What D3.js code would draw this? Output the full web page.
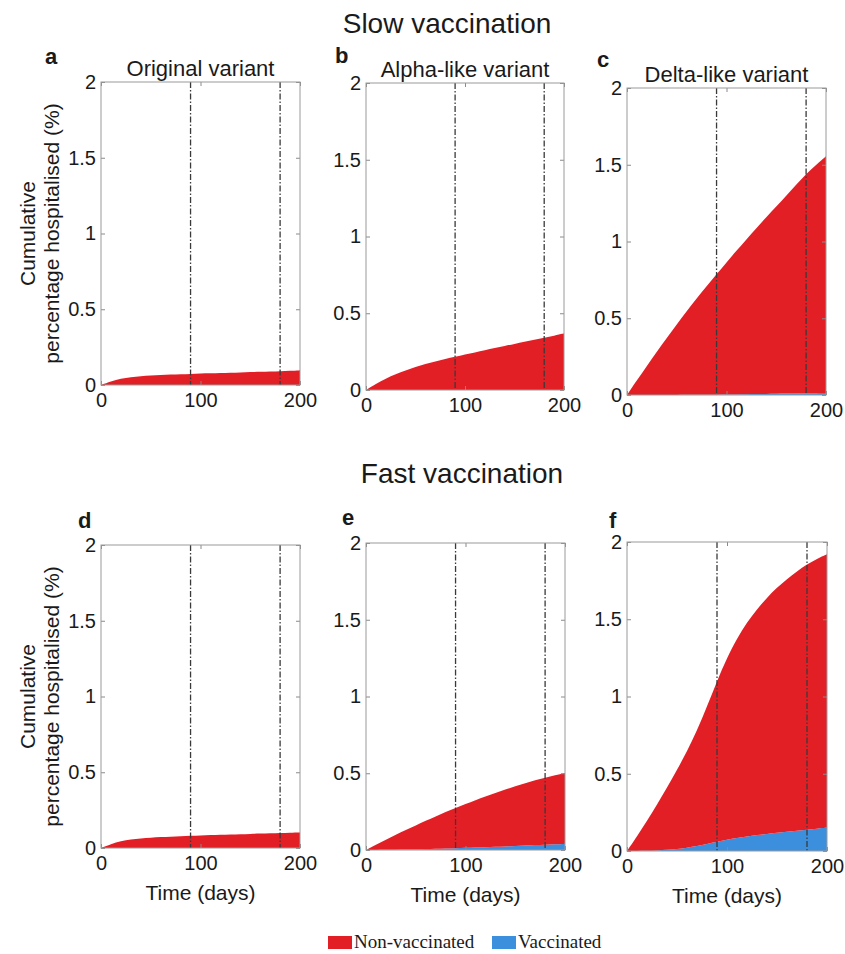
<!DOCTYPE html>
<html>
<head>
<meta charset="utf-8">
<script src="https://cdn.jsdelivr.net/npm/d3@7"></script>
<style>
  body { margin: 0; background: #fff; }
  text { font-family: 'Liberation Sans', Arial, Helvetica, sans-serif; fill: #1a1a1a; }
</style>
</head>
<body>
<svg id="chart" width="845" height="954"></svg>
<script>
// time grid (days) and the two reference days marked with dash-dot lines
const days = [0, 10, 20, 30, 40, 50, 60, 70, 80, 90, 100, 110, 120, 130, 140, 150, 160, 170, 180, 190, 200];
const markerDays = [90, 180];
const xTicks = [0, 100, 200];
const yTicks = [0, 0.5, 1, 1.5, 2];

const rowTitles = ['Slow vaccination', 'Fast vaccination'];
const variants = ['Original variant', 'Alpha-like variant', 'Delta-like variant'];
const letters = ['a', 'b', 'c', 'd', 'e', 'f'];
const seriesNames = ['Non-vaccinated', 'Vaccinated'];
const seriesColors = ['#e31f26', '#3c8fdd'];

// cumulative % hospitalised, non-vaccinated part
const nonVacA = [0, 0.025, 0.042, 0.052, 0.059, 0.063, 0.066, 0.069, 0.071, 0.073, 0.076, 0.077, 0.079, 0.081, 0.083, 0.085, 0.087, 0.089, 0.091, 0.094, 0.097];
const nonVacB = [0, 0.04, 0.075, 0.103, 0.128, 0.15, 0.17, 0.186, 0.202, 0.216, 0.231, 0.245, 0.259, 0.273, 0.287, 0.3, 0.314, 0.327, 0.34, 0.354, 0.368];
const nonVacC = [0, 0.096, 0.19, 0.282, 0.372, 0.46, 0.545, 0.628, 0.707, 0.785, 0.861, 0.936, 1.009, 1.081, 1.151, 1.22, 1.288, 1.36, 1.429, 1.488, 1.542];
const nonVacD = [0, 0.027, 0.045, 0.056, 0.063, 0.068, 0.072, 0.075, 0.078, 0.08, 0.083, 0.085, 0.087, 0.089, 0.091, 0.093, 0.095, 0.097, 0.099, 0.101, 0.103];
const nonVacE = [0, 0.034, 0.066, 0.097, 0.127, 0.156, 0.184, 0.211, 0.237, 0.262, 0.286, 0.309, 0.331, 0.351, 0.371, 0.389, 0.406, 0.422, 0.438, 0.45, 0.461];
const nonVacF = [0, 0.095, 0.194, 0.297, 0.403, 0.512, 0.624, 0.749, 0.89, 1.04, 1.177, 1.291, 1.386, 1.462, 1.529, 1.587, 1.635, 1.679, 1.718, 1.747, 1.769];

// cumulative % hospitalised, vaccinated part
const vacA = [0, 0, 0, 0, 0, 0, 0, 0, 0, 0, 0, 0, 0, 0, 0, 0, 0, 0, 0, 0, 0];
const vacB = [0, 0, 0, 0, 0, 0, 0, 0, 0, 0, 0, 0, 0, 0, 0, 0, 0, 0, 0, 0, 0];
const vacC = [0, 0, 0, 0, 0, 0, 0.001, 0.001, 0.002, 0.002, 0.003, 0.004, 0.005, 0.006, 0.007, 0.008, 0.009, 0.01, 0.011, 0.012, 0.013];
const vacD = [0, 0, 0, 0, 0, 0, 0, 0, 0, 0, 0, 0, 0, 0, 0, 0, 0, 0, 0, 0, 0];
const vacE = [0, 0, 0.001, 0.002, 0.003, 0.004, 0.006, 0.008, 0.01, 0.012, 0.014, 0.016, 0.018, 0.021, 0.023, 0.026, 0.029, 0.032, 0.034, 0.037, 0.04];
const vacF = [0, 0, 0.001, 0.003, 0.007, 0.013, 0.021, 0.031, 0.045, 0.06, 0.073, 0.084, 0.094, 0.103, 0.111, 0.118, 0.125, 0.131, 0.137, 0.145, 0.151];

const nonVac = [nonVacA, nonVacB, nonVacC, nonVacD, nonVacE, nonVacF];
const vac = [vacA, vacB, vacC, vacD, vacE, vacF];

// plot boxes (the scanned figure is slightly skewed, so each box differs a little)
const boxes = [
  { x0: 101, x1: 300, y0: 82, y1: 385, lx: 45, ly: 64 },
  { x0: 366, x1: 564, y0: 83, y1: 390, lx: 335, ly: 63 },
  { x0: 627, x1: 826, y0: 88, y1: 395, lx: 597, ly: 67 },
  { x0: 101, x1: 300, y0: 545, y1: 848, lx: 78, ly: 528 },
  { x0: 366, x1: 565, y0: 543, y1: 850, lx: 342, ly: 525 },
  { x0: 627, x1: 827, y0: 542, y1: 851, lx: 609, ly: 528 }
];

const svg = d3.select('#chart');

svg.append('text').attr('x', 447).attr('y', 33).attr('text-anchor', 'middle')
  .style('font-size', '28px').text(rowTitles[0]);
svg.append('text').attr('x', 462).attr('y', 483).attr('text-anchor', 'middle')
  .style('font-size', '28px').text(rowTitles[1]);

boxes.forEach((b, i) => {
  const row = Math.floor(i / 3), col = i % 3;
  const x = d3.scaleLinear().domain([0, 200]).range([b.x0, b.x1]);
  const y = d3.scaleLinear().domain([0, 2]).range([b.y1, b.y0]);
  const g = svg.append('g');

  const rows = days.map((d, k) => ({ day: d, v: vac[i][k], nv: nonVac[i][k] }));
  const stacked = d3.stack().keys(['v', 'nv'])(rows);
  const area = d3.area()
    .x(d => x(d.data.day))
    .y0(d => y(d[0]))
    .y1(d => y(d[1]))
    .curve(d3.curveBasis);

  g.selectAll('path.area')
    .data(stacked)
    .join('path')
    .attr('class', 'area')
    .attr('fill', d => d.key === 'v' ? seriesColors[1] : seriesColors[0])
    .attr('d', area);

  g.selectAll('line.marker')
    .data(markerDays)
    .join('line')
    .attr('class', 'marker')
    .attr('x1', d => x(d)).attr('x2', d => x(d))
    .attr('y1', b.y0).attr('y2', b.y1)
    .attr('stroke', '#3a3a3a')
    .attr('stroke-width', 1.3)
    .attr('stroke-dasharray', '6,2,1.5,2');

  // axes with inward ticks, mirrored on top/right like a boxed MATLAB axis
  g.append('g').attr('transform', `translate(${b.x0},0)`)
    .call(d3.axisLeft(y).tickValues(yTicks).tickSize(-4).tickPadding(5).tickFormat(d3.format('~g')));
  const bottom = g.append('g').attr('transform', `translate(0,${b.y1})`)
    .call(d3.axisBottom(x).tickValues(xTicks).tickSize(-4).tickPadding(8));
  g.append('g').attr('transform', `translate(${b.x1},0)`)
    .call(d3.axisRight(y).tickValues(yTicks).tickSize(-4).tickFormat(''));
  g.append('g').attr('transform', `translate(0,${b.y0})`)
    .call(d3.axisTop(x).tickValues(xTicks).tickSize(-4).tickFormat(''));

  g.selectAll('.domain').remove();
  g.selectAll('.tick line').attr('stroke', '#8a8a8a');
  g.selectAll('.tick text').style('font-size', '20px').style('font-family', "'Liberation Sans', Arial, sans-serif").attr('fill', '#1a1a1a');
  bottom.selectAll('.tick text').attr('dy', '0.71em');

  g.append('rect')
    .attr('x', b.x0).attr('y', b.y0)
    .attr('width', b.x1 - b.x0).attr('height', b.y1 - b.y0)
    .attr('fill', 'none').attr('stroke', '#9a9a9a').attr('stroke-width', 1);

  svg.append('text').attr('x', b.lx).attr('y', b.ly)
    .style('font-size', '22px').style('font-weight', 'bold').text(letters[i]);

  if (row === 0) {
    svg.append('text').attr('x', (b.x0 + b.x1) / 2).attr('y', b.y0 - 6)
      .attr('text-anchor', 'middle').style('font-size', '22px').text(variants[col]);
  } else {
    svg.append('text').attr('x', (b.x0 + b.x1) / 2).attr('y', b.y1 + 52)
      .attr('text-anchor', 'middle').style('font-size', '21px').text('Time (days)');
  }

  if (col === 0) {
    const cy = (b.y0 + b.y1) / 2;
    const lab = svg.append('text')
      .attr('transform', `translate(35,${cy}) rotate(-90)`)
      .attr('text-anchor', 'middle').style('font-size', '21px');
    lab.append('tspan').attr('x', 0).attr('y', 0).text('Cumulative');
    lab.append('tspan').attr('x', 0).attr('y', 24).text('percentage hospitalised (%)');
  }
});

// legend
const legend = svg.append('g').attr('transform', 'translate(328,935)');
const items = [{ x: 0, name: seriesNames[0], color: seriesColors[0] },
               { x: 164, name: seriesNames[1], color: seriesColors[1] }];
items.forEach(it => {
  legend.append('rect').attr('x', it.x).attr('y', 1).attr('width', 24).attr('height', 13).attr('fill', it.color);
  legend.append('text').attr('x', it.x + 26).attr('y', 13)
    .style('font-family', "'Liberation Serif', 'Times New Roman', serif")
    .style('font-size', '19px').text(it.name);
});
</script>
</body>
</html>
